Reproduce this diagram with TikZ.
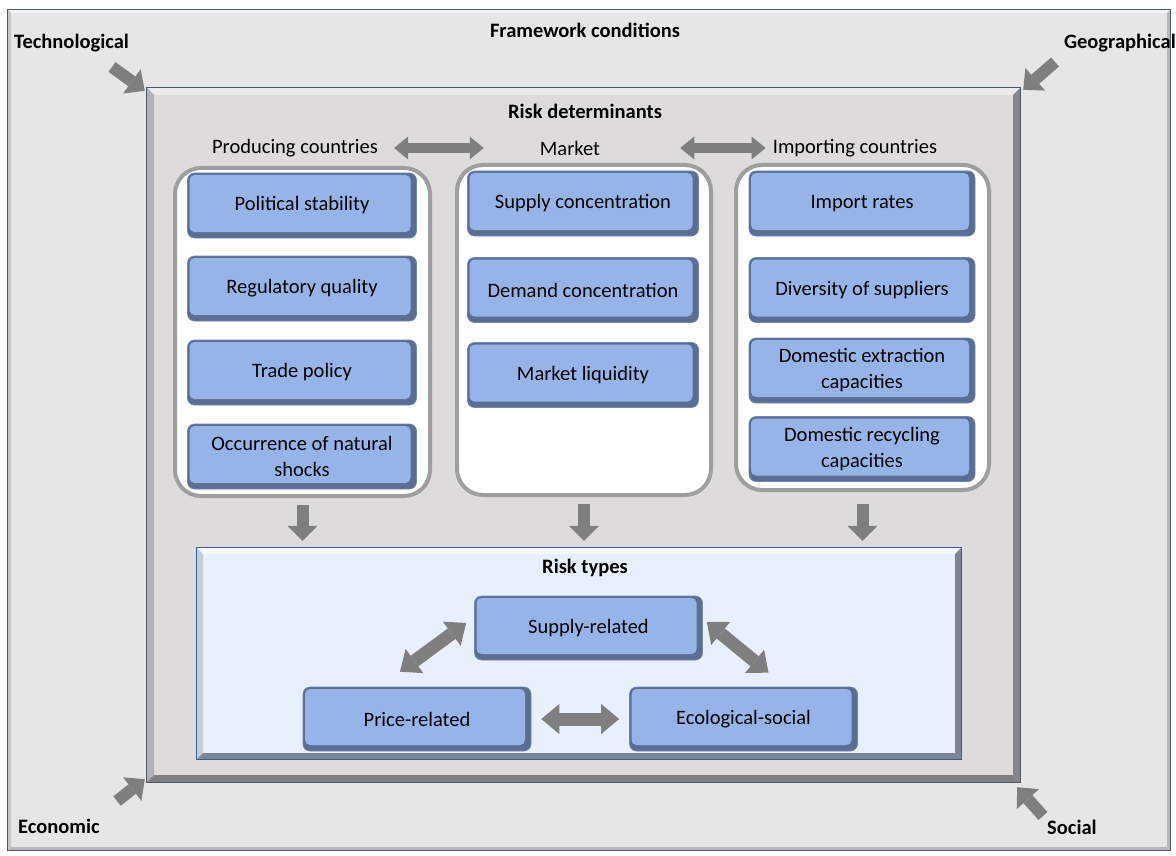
\documentclass[tikz,border=0pt]{standalone}
\usepackage{fontspec}
\setmainfont{Carlito}
\usetikzlibrary{arrows.meta}

\definecolor{outerbg}{HTML}{E6E6E6}
\definecolor{innerbg}{HTML}{DDDBDB}
\definecolor{riskbg}{HTML}{E8F0FD}
\definecolor{boxblue}{HTML}{97B4E9}
\definecolor{boxdark}{HTML}{5A6E94}
\definecolor{boxline}{HTML}{6F86B2}
\definecolor{arrowgray}{HTML}{7F7F7F}
\definecolor{frameline}{HTML}{4F5866}
\definecolor{riskline}{HTML}{3A5A9A}
\definecolor{riskleft}{HTML}{C5CDDA}
\definecolor{riskshade}{HTML}{7D8593}

% bevelled frame: x1,y1,x2,y2,bevel,top,left,right,bottom
\newcommand\bevelrect[9]{%
  \fill[#6] (#1,#2) -- (#3,#2) -- ({#3-#5},{#2+#5}) -- ({#1+#5},{#2+#5}) -- cycle;
  \fill[#7] (#1,#2) -- ({#1+#5},{#2+#5}) -- ({#1+#5},{#4-#5}) -- (#1,#4) -- cycle;
  \fill[#8] (#3,#2) -- (#3,#4) -- ({#3-#5},{#4-#5}) -- ({#3-#5},{#2+#5}) -- cycle;
  \fill[#9] (#1,#4) -- (#3,#4) -- ({#3-#5},{#4-#5}) -- ({#1+#5},{#4-#5}) -- cycle;
}

\tikzset{
  factor/.style={rectangle, rounded corners=7pt, fill=boxdark, draw=boxline,
    line width=0.6pt, minimum width=#1, minimum height=65pt, inner sep=2pt,
    align=center, font=\fontsize{20.5}{26}\selectfont,
    path picture={\fill[boxblue, rounded corners=5pt]
      ([shift={(2pt,-2pt)}]path picture bounding box.north west) rectangle
      ([shift={(-6pt,6pt)}]path picture bounding box.south east);}},
  column/.style={rectangle, rounded corners=26pt, fill=white, draw=black!38,
    line width=4pt, inner sep=0pt},
  title/.style={font=\bfseries\fontsize{20.5}{24}\selectfont, inner sep=0pt},
  collabel/.style={font=\fontsize{20.5}{24}\selectfont, inner sep=0pt},
  dnarrow/.style={draw=arrowgray, line width=12pt,
    -{Triangle[width=30pt,length=15pt,line width=0pt]}},
  dblarrow/.style={draw=arrowgray, line width=10pt,
    {Triangle[width=23pt,length=14pt,line width=0pt]}-{Triangle[width=23pt,length=14pt,line width=0pt]}},
  bigdbl/.style={draw=arrowgray, line width=13pt,
    {Triangle[width=30pt,length=18pt,line width=0pt]}-{Triangle[width=30pt,length=18pt,line width=0pt]}},
  cornerarrow/.style={draw=arrowgray, line width=12pt,
    -{Triangle[width=30pt,length=16pt,line width=0pt]}},
}

\begin{document}
\begin{tikzpicture}[x=1pt,y=-1pt]
\useasboundingbox (0,0) rectangle (1176,856);
\fill[white] (0,0) rectangle (1176,856);

% framework conditions
\node[fill=outerbg, minimum width=1162pt, minimum height=840pt, inner sep=0pt] (outer) at (589,430) {};
\bevelrect{8}{10}{1170}{850}{3}{white!95!black}{black!22}{black!28}{black!28}
\draw[frameline, line width=0.7pt] (outer.north west) rectangle (outer.south east);

% risk determinants
\node[fill=innerbg, minimum width=873pt, minimum height=694pt, inner sep=0pt] (det) at (583.5,435) {};
\bevelrect{147}{88}{1020}{782}{7}{black!8}{black!30}{black!48}{black!50}
\draw[frameline, line width=0.9pt] (det.north west) rectangle (det.south east);

% risk types
\node[fill=riskbg, minimum width=764pt, minimum height=211pt, inner sep=0pt] (risk) at (579,653.5) {};
\bevelrect{197}{548}{961}{759}{6}{riskbg!50!white}{riskleft}{riskshade}{riskshade}
\draw[riskline, line width=0.8pt] (risk.north west) rectangle (risk.south east);

% titles
\node[title] (fw) at (585,30) {Framework conditions};
\node[title] (rd) at (585,111) {Risk determinants};
\node[title] (rt) at (585,568) {Risk types};
\node[title, anchor=west] (tech) at (14,43) {Technological};
\node[title, anchor=east] (geo) at (1176,43) {Geographical};
\node[title, anchor=west] (eco) at (18,826) {Economic};
\node[title, anchor=west] (soc) at (1047,827) {Social};

% column labels
\node[collabel] (prodlbl) at (295,148) {Producing countries};
\node[collabel] (mktlbl) at (570,148) {Market};
\node[collabel] (implbl) at (855,148) {Importing countries};

% column containers
\node[column, minimum width=255pt, minimum height=328pt] (prod) at (302.5,332) {};
\node[column, minimum width=254pt, minimum height=330pt] (mkt) at (584,330) {};
\node[column, minimum width=253pt, minimum height=325pt] (imp) at (862.5,327.5) {};

% producing countries
\node[factor=229pt] (ps) at (302,205.5) {Political stability};
\node[factor=229pt] (rq) at (302,288.5) {Regulatory quality};
\node[factor=229pt] (tp) at (302,372.5) {Trade policy};
\node[factor=229pt] (ns) at (302,456.5) {Occurrence of natural\\shocks};

% market
\node[factor=231pt] (sc) at (583,203.5) {Supply concentration};
\node[factor=231pt] (dc) at (583,290) {Demand concentration};
\node[factor=231pt] (ml) at (583,375) {Market liquidity};

% importing countries
\node[factor=226pt] (ir) at (862,203.5) {Import rates};
\node[factor=226pt] (ds) at (862,290) {Diversity of suppliers};
\node[factor=226pt] (de) at (862,370.5) {Domestic extraction\\capacities};
\node[factor=226pt] (dr) at (862,449) {Domestic recycling\\capacities};

% risk types
\node[factor=228pt, minimum height=64pt] (sup) at (588.5,628) {Supply-related};
\node[factor=228pt, minimum height=64pt] (pri) at (417,719) {Price-related};
\node[factor=228pt, minimum height=64pt] (ecs) at (743.5,719) {Ecological-social};

% arrows between determinant groups
\draw[dblarrow, shorten <=16pt, shorten >=56pt] (prodlbl.east) -- (mktlbl.west);
\draw[dblarrow, shorten <=80pt, shorten >=7pt] (mktlbl.east) -- (implbl.west);

% determinants feed the risk types
\coordinate (risktop) at (risk.north);
\draw[dnarrow, shorten <=7pt, shorten >=7pt] (prod.south) -- (prod.south |- risktop);
\draw[dnarrow, shorten <=7pt, shorten >=7pt] (mkt.south) -- (mkt.south |- risktop);
\draw[dnarrow, shorten <=12pt, shorten >=7pt] (imp.south) -- (imp.south |- risktop);

% interplay of risk types
\draw[bigdbl] ([shift={(-17pt,15pt)}]pri.north) -- ([shift={(-8pt,5pt)}]sup.west);
\draw[bigdbl] ([shift={(4pt,6pt)}]sup.east) -- ([shift={(25pt,14pt)}]ecs.north);
\draw[bigdbl, shorten <=10pt, shorten >=10pt] (pri.east) -- (ecs.west);

% framework influences on the corners
\draw[cornerarrow] (112,67) -- ([shift={(-2pt,-3pt)}]det.north west);
\draw[cornerarrow] (1055,62) -- ([shift={(3pt,-2pt)}]det.north east);
\draw[cornerarrow] (117,801) -- ([shift={(-2pt,3pt)}]det.south west);
\draw[cornerarrow] (1043,816) -- ([shift={(-3pt,-5pt)}]det.south east);
\end{tikzpicture}
\end{document}
